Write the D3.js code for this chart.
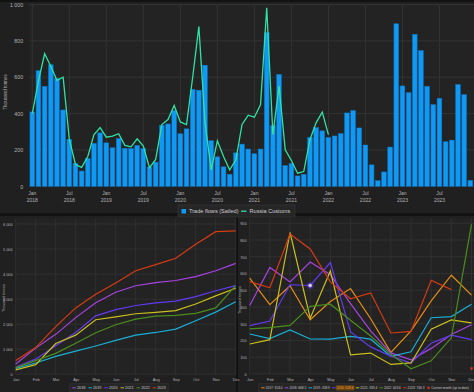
<!DOCTYPE html>
<html>
<head>
<meta charset="utf-8">
<script src="https://cdn.jsdelivr.net/npm/d3@7/dist/d3.min.js"></script>
<style>
  body { margin: 0; background: #121212; }
  svg { display: block; font-family: "Liberation Sans", Arial, sans-serif; }
</style>
</head>
<body>
<svg id="chart" width="474" height="392"></svg>
<script>
const monthNames = ["Jan", "Feb", "Mar", "Apr", "May", "Jun", "Jul", "Aug", "Sep", "Oct", "Nov", "Dec"];
const yearNames = ["2017", "2018", "2019", "2020", "2021", "2022", "2023"];
const yearColors = ["#e38b17", "#a843e3", "#19aed6", "#6339f2", "#c9bf1c", "#4b8d1d", "#d63b12"];

// monthly volumes, thousand tonnes
const sales2017 = [573, 414, 527, 324.0, 433, 510, 330, 129, 258, 437, 590, 471];
const sales2018 = [409, 636, 550, 668.5, 593, 420, 258, 126, 84, 153, 236, 294];
const sales2019 = [239, 212, 263, 208.9, 208, 225, 208, 106, 133, 336, 343, 416];
const sales2020 = [289, 316, 533, 528.6, 666, 251, 162, 107, 66, 184, 232, 205];
const sales2021 = [179, 205, 845, 333.4, 615, 114, 125, 57, 66, 268, 323, 305];
const sales2022 = [269, 277, 290, 403.6, 417, 321, 227, 118, 31, 79, 216, 894];
const sales2023 = [552, 515, 836, 746.3, 550, 449, 484, 245, 254, 560, 504, 33];

// Russia customs, Jan 2018 .. Jan 2022
const russiaCustoms = [400, 580, 729, 660, 583, 600, 260, 120, 104, 164, 285, 323,
  270, 276, 289, 225, 217, 261, 221, 102, 148, 340, 367, 444,
  354, 340, 600, 879, 349, 90, 251, 164, 90, 146, 340, 391,
  380, 450, 982, 284, 552, 201, 142, 72, 81, 256, 349, 408,
  284];

const yearSeries = [sales2017, sales2018, sales2019, sales2020, sales2021, sales2022, sales2023];
const tradeFlows = d3.merge(yearSeries.slice(1));
const tradeYears = yearNames.slice(1);

const fmt = d3.formatLocale({decimal: ".", thousands: " ", grouping: [3], currency: ["", ""]}).format(",");
const textColor = "#b4b4b4";
const gridColor = "#333333";

const svg = d3.select("#chart");

// panels
svg.append("rect").attr("x", 0).attr("y", 2).attr("width", 474).attr("height", 211).attr("fill", "#202020");
svg.append("rect").attr("x", 0).attr("y", 216).attr("width", 236).attr("height", 176).attr("fill", "#202020");
svg.append("rect").attr("x", 238).attr("y", 216).attr("width", 236).attr("height", 176).attr("fill", "#202020");

// ---------- top chart ----------
const mainArea = {left: 29.2, right: 473.4, top: 4.5, bottom: 186.3};
const x = d3.scaleBand().domain(d3.range(tradeFlows.length)).range([mainArea.left, mainArea.right])
  .paddingInner(0.24).paddingOuter(0.12);
const y = d3.scaleLinear().domain([0, 1000]).range([mainArea.bottom, mainArea.top]);
const cx = i => x(i) + x.bandwidth() / 2;
const tickIdx = d3.range(0, tradeFlows.length, 6);

var g = svg.append("g");
g.append("rect").attr("x", mainArea.left).attr("y", mainArea.top).attr("width", 474 - mainArea.left)
  .attr("height", mainArea.bottom - mainArea.top).attr("fill", "#232323");
g.selectAll(".hgrid").data(y.ticks(5)).enter().append("line")
  .attr("x1", mainArea.left).attr("x2", 474).attr("y1", d => y(d)).attr("y2", d => y(d))
  .attr("stroke", gridColor).attr("stroke-width", 1);
g.selectAll(".vgrid").data(tickIdx).enter().append("line")
  .attr("x1", cx).attr("x2", cx).attr("y1", mainArea.top).attr("y2", mainArea.bottom)
  .attr("stroke", gridColor).attr("stroke-width", 1);

g.selectAll(".bar").data(tradeFlows).enter().append("rect")
  .attr("x", (d, i) => x(i)).attr("width", x.bandwidth())
  .attr("y", d => y(d)).attr("height", d => y(0) - y(d))
  .attr("fill", "#0f98f4").attr("stroke", "#0b77c4").attr("stroke-width", 0.5);

g.append("path").datum(russiaCustoms)
  .attr("fill", "none").attr("stroke", "#2fe3a4").attr("stroke-width", 1.3)
  .attr("d", d3.line().x((d, i) => cx(i)).y(d => y(d)));

var yAxis = g.append("g").attr("transform", `translate(${mainArea.left},0)`)
  .call(d3.axisLeft(y).ticks(5).tickFormat(fmt).tickSize(0).tickPadding(6));
yAxis.select(".domain").remove();
yAxis.selectAll("text").attr("fill", textColor).attr("font-size", 5.3);

var xAxis = g.append("g").attr("transform", `translate(0,${mainArea.bottom})`)
  .call(d3.axisBottom(x).tickValues(tickIdx).tickFormat(i => monthNames[i % 12]).tickSize(0).tickPadding(5));
xAxis.select(".domain").remove();
xAxis.selectAll("text").attr("fill", textColor).attr("font-size", 5);
xAxis.selectAll(".tick").append("text").attr("y", 12).attr("dy", "0.71em")
  .attr("fill", textColor).attr("font-size", 5).attr("text-anchor", "middle")
  .text(i => tradeYears[Math.floor(i / 12)]);

g.append("text").attr("transform", "translate(6.5,92) rotate(-90)")
  .attr("text-anchor", "middle").attr("fill", textColor).attr("font-size", 4.6)
  .text("Thousand tonnes");

// top legend
var leg = g.append("g");
leg.append("rect").attr("x", 178).attr("y", 205).attr("width", 117).attr("height", 12)
  .attr("fill", "#262626").attr("stroke", "#3a3a3a").attr("stroke-width", 0.6);
leg.append("rect").attr("x", 181.5).attr("y", 209).attr("width", 4.5).attr("height", 4.5).attr("fill", "#0f98f4");
leg.append("text").attr("x", 189).attr("y", 213.2).attr("fill", "#cfcfcf").attr("font-size", 5.6).text("Trade flows (Sailed)");
leg.append("line").attr("x1", 241).attr("x2", 246.5).attr("y1", 211.2).attr("y2", 211.2).attr("stroke", "#2fe3a4").attr("stroke-width", 1.3);
leg.append("text").attr("x", 249.5).attr("y", 213.2).attr("fill", "#cfcfcf").attr("font-size", 5.6).text("Russia Customs");

// ---------- bottom helpers ----------
function drawFrame(gr, xs, ys, yTicks, yFmt, area) {
  gr.append("rect").attr("x", area.left).attr("y", area.top).attr("width", area.right - area.left)
    .attr("height", area.bottom - area.top).attr("fill", "#232323");
  gr.selectAll(".hg").data(yTicks).enter().append("line")
    .attr("x1", area.left).attr("x2", area.right).attr("y1", d => ys(d)).attr("y2", d => ys(d))
    .attr("stroke", gridColor).attr("stroke-width", 0.8);
  gr.selectAll(".vg").data(d3.range(12)).enter().append("line")
    .attr("x1", d => xs(d)).attr("x2", d => xs(d)).attr("y1", area.top).attr("y2", ys(0))
    .attr("stroke", gridColor).attr("stroke-width", 0.8);
  var ya = gr.append("g").attr("transform", `translate(${xs(0)},0)`)
    .call(d3.axisLeft(ys).tickValues(yTicks).tickFormat(yFmt).tickSize(0).tickPadding(3));
  ya.select(".domain").remove();
  ya.selectAll("text").attr("fill", textColor).attr("font-size", 3.9);
  var xa = gr.append("g").attr("transform", `translate(0,${ys(0)})`)
    .call(d3.axisBottom(xs).tickFormat(i => monthNames[i]).tickSize(0).tickPadding(4));
  xa.select(".domain").remove();
  xa.selectAll("text").attr("fill", textColor).attr("font-size", 3.9);
}

function drawLegend(gr, items, cxm, cy, fontSize, gap) {
  var lg = gr.append("g");
  var box = lg.append("rect").attr("fill", "#262626").attr("stroke", "#3a3a3a").attr("stroke-width", 0.5);
  var pos = 0;
  var groups = [];
  items.forEach(function(it) {
    var ig = lg.append("g");
    groups.push(ig);
    if (it.dot) {
      ig.append("rect").attr("x", pos + 0.8).attr("y", cy - 1.1).attr("width", 2.2).attr("height", 2.2).attr("fill", it.color);
    } else {
      ig.append("line").attr("x1", pos).attr("x2", pos + 3.5).attr("y1", cy).attr("y2", cy)
        .attr("stroke", it.color).attr("stroke-width", 1);
    }
    var t = ig.append("text").attr("x", pos + 4.6).attr("y", cy + fontSize * 0.35)
      .attr("font-size", fontSize).attr("fill", it.active ? "#f0a030" : "#c8c8c8").text(it.label);
    var w = t.node().getComputedTextLength();
    if (it.active) {
      ig.insert("rect", "text").attr("x", pos + 3.8).attr("y", cy - 2.6).attr("width", w + 1.8)
        .attr("height", 5.2).attr("rx", 0.8).attr("fill", "#6a4312");
    }
    pos += 4.6 + w + gap;
  });
  var total = pos - gap;
  var x0 = cxm - total / 2;
  groups.forEach(ig => ig.attr("transform", `translate(${x0},0)`));
  box.attr("x", x0 - 2.5).attr("y", cy - 4).attr("width", total + 5).attr("height", 8);
}

// ---------- bottom-left: cumulative ----------
var bl = {left: 15.7, right: 236, top: 218.5, bottom: 374.3};
var xl = d3.scalePoint().domain(d3.range(12)).range([15.7, 235.7]);
var yl = d3.scaleLinear().domain([0, 6000]).range([374.3, 224]);
var gl = svg.append("g");
drawFrame(gl, xl, yl, d3.range(0, 7000, 1000), fmt, bl);
var lineL = d3.line().x((d, i) => xl(i)).y(d => yl(d));
yearSeries.slice(1).forEach(function(s, k) {
  gl.append("path").datum(Array.from(d3.cumsum(s)))
    .attr("fill", "none").attr("stroke", yearColors[k + 1]).attr("stroke-width", 1.2)
    .attr("d", lineL);
});
gl.append("text").attr("transform", "translate(4.5,298) rotate(-90)")
  .attr("text-anchor", "middle").attr("fill", textColor).attr("font-size", 3.6).text("Thousand tonnes");
drawLegend(gl, tradeYears.map((n, k) => ({label: n, color: yearColors[k + 1]})), 119, 387.8, 3.8, 3);

// ---------- bottom-right: monthly by year ----------
var br = {left: 249.7, right: 474, top: 218.5, bottom: 374};
var xr = d3.scalePoint().domain(d3.range(12)).range([249.7, 471.5]);
var yr = d3.scaleLinear().domain([0, 900]).range([374, 223.3]);
var gr2 = svg.append("g");
drawFrame(gr2, xr, yr, d3.range(0, 1000, 100), d3.format("d"), br);
var lineR = d3.line().x((d, i) => xr(i)).y(d => yr(d));
yearSeries.forEach(function(s, k) {
  var pts = k === yearSeries.length - 1 ? s.slice(0, 11) : s;
  gr2.append("path").datum(pts)
    .attr("fill", "none").attr("stroke", yearColors[k]).attr("stroke-width", 1.2)
    .attr("d", lineR);
});
// current month marker
gr2.append("rect").attr("x", xr(11) - 1.2).attr("y", yr(sales2023[11]) - 1.2)
  .attr("width", 2.4).attr("height", 2.4).attr("fill", "#e0301a");
// hovered point (2020, Apr)
gr2.append("circle").attr("cx", xr(3)).attr("cy", yr(sales2020[3])).attr("r", 3.6)
  .attr("fill", "#6339f2").attr("opacity", 0.35);
gr2.append("circle").attr("cx", xr(3)).attr("cy", yr(sales2020[3])).attr("r", 1.8)
  .attr("fill", "#ddd8ff").attr("stroke", "#8a74ff").attr("stroke-width", 0.5);
gr2.append("text").attr("transform", "translate(240.5,300) rotate(-90)")
  .attr("text-anchor", "middle").attr("fill", textColor).attr("font-size", 3.6).text("Thousand tonnes");

var hover = 3;
var itemsR = yearNames.map((n, k) => ({
  label: n + ": " + yearSeries[k][hover].toFixed(1), color: yearColors[k], active: n === "2020"
}));
itemsR.push({label: "Current month (up to date)", color: "#e0301a", dot: true});
drawLegend(gr2, itemsR, 365, 387.8, 3.2, 2.2);
</script>
</body>
</html>
